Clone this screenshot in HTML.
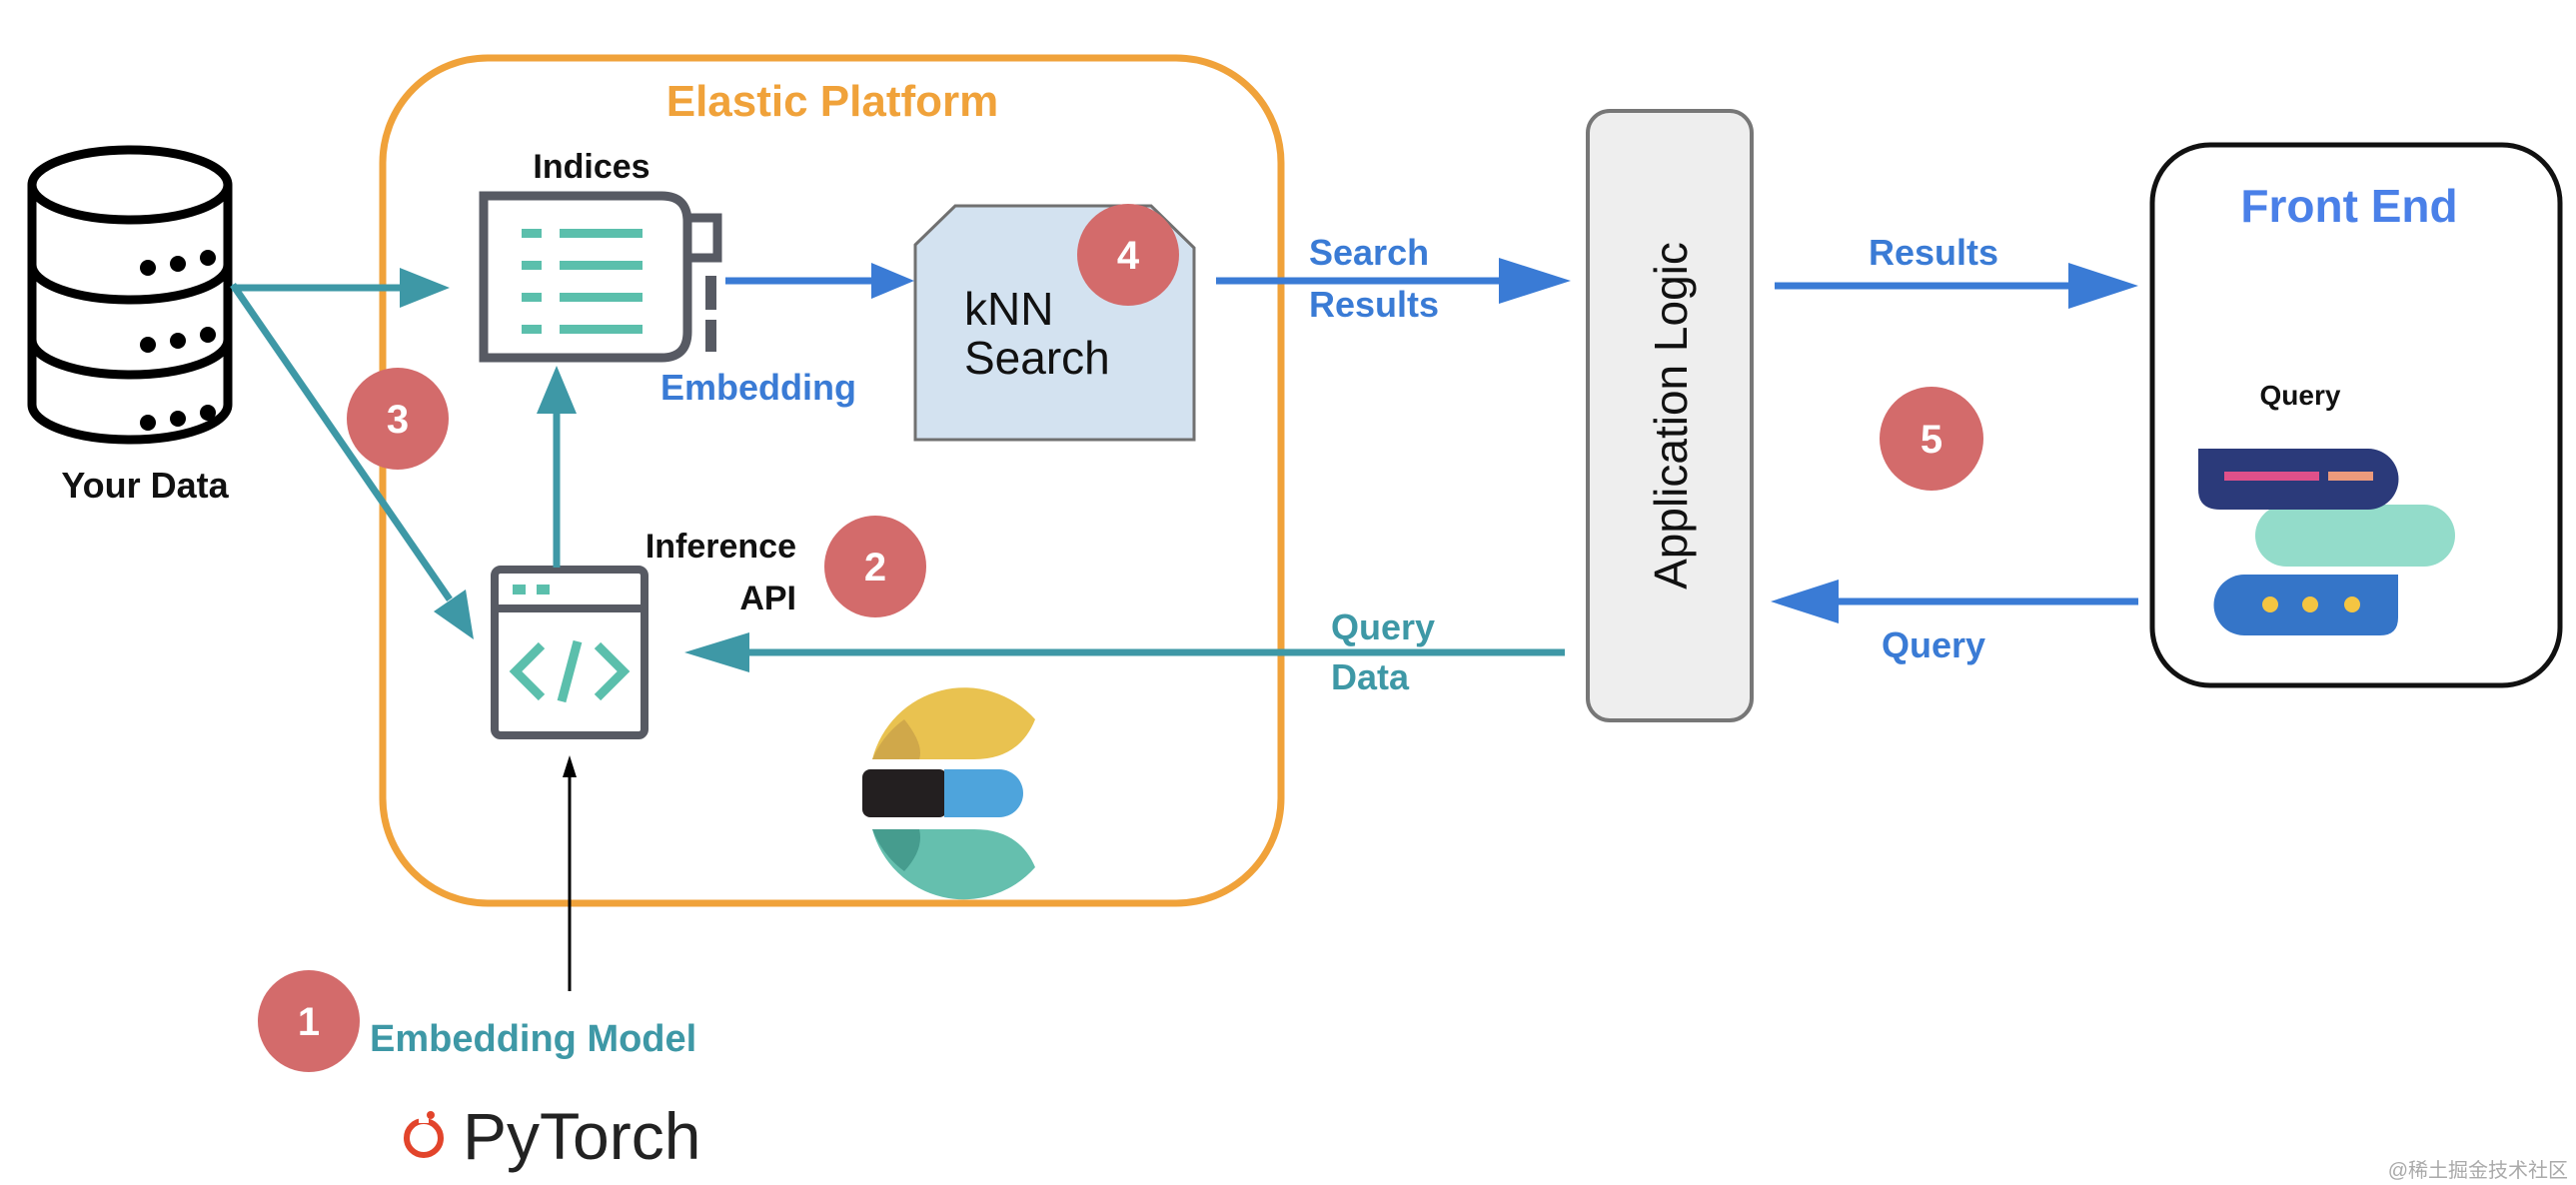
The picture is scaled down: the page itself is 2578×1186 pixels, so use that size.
<!DOCTYPE html>
<html><head><meta charset="utf-8"><style>
html,body{margin:0;padding:0;background:#fff;}
svg{display:block;}
text{font-family:"Liberation Sans",Arial,sans-serif;}
</style></head><body>
<svg width="2578" height="1186" viewBox="0 0 2578 1186" xmlns="http://www.w3.org/2000/svg">
<rect width="2578" height="1186" fill="#fff"/>
<!-- Elastic platform box -->
<rect x="383" y="58" width="899" height="846" rx="105" fill="none" stroke="#f0a23a" stroke-width="7"/>
<text x="833" y="116" text-anchor="middle" font-size="44" font-weight="bold" fill="#f0a23a">Elastic Platform</text>

<!-- database -->
<g fill="#fff" stroke="#000" stroke-width="9">
<path d="M32,185 V405 A98,35 0 0 0 228,405 V185"/>
<ellipse cx="130" cy="185" rx="98" ry="35"/>
<path d="M32,265 A98,35 0 0 0 228,265"/>
<path d="M32,340 A98,35 0 0 0 228,340"/>
</g>
<g fill="#000">
<circle cx="148" cy="268" r="8"/><circle cx="178" cy="264" r="8"/><circle cx="208" cy="258" r="8"/>
<circle cx="148" cy="345" r="8"/><circle cx="178" cy="341" r="8"/><circle cx="208" cy="335" r="8"/>
<circle cx="148" cy="423" r="8"/><circle cx="178" cy="419" r="8"/><circle cx="208" cy="413" r="8"/>
</g>
<text x="145" y="498" text-anchor="middle" font-size="36" font-weight="bold" fill="#111">Your Data</text>

<!-- teal arrows from db -->
<line x1="232" y1="288" x2="410" y2="288" stroke="#3e98a6" stroke-width="7"/>
<path d="M400,268 L450,288 L400,308 z" fill="#3e98a6"/>
<line x1="233" y1="285" x2="450" y2="600" stroke="#3e98a6" stroke-width="7"/>
<path d="M474,640 L434,612 L466,590 z" fill="#3e98a6"/>

<!-- indices icon -->
<text x="592" y="178" text-anchor="middle" font-size="34" font-weight="bold" fill="#111">Indices</text>
<path d="M484,196 H662 Q688,196 688,222 V332 Q688,358 662,358 H484 z" fill="#fff" stroke="#575a63" stroke-width="9"/>
<path d="M688,218 H718 V258 H688" fill="none" stroke="#575a63" stroke-width="9"/>
<rect x="706" y="276" width="11" height="34" fill="#575a63"/>
<rect x="706" y="320" width="11" height="32" fill="#575a63"/>
<g fill="#5bbfac">
<rect x="522" y="229" width="20" height="9"/><rect x="560" y="229" width="83" height="9"/>
<rect x="522" y="261" width="20" height="9"/><rect x="560" y="261" width="83" height="9"/>
<rect x="522" y="293" width="20" height="9"/><rect x="560" y="293" width="83" height="9"/>
<rect x="522" y="325" width="20" height="9"/><rect x="560" y="325" width="83" height="9"/>
</g>

<!-- blue arrow to kNN -->
<line x1="726" y1="281" x2="880" y2="281" stroke="#3a7bd5" stroke-width="7"/>
<path d="M872,263 L915,281 L872,299 z" fill="#3a7bd5"/>
<text x="661" y="400" font-size="36" font-weight="bold" fill="#3a7bd5">Embedding</text>

<!-- kNN box -->
<path d="M916,245 L956,206 H1152 L1195,248 V440 H916 z" fill="#d3e2f0" stroke="#707070" stroke-width="3"/>
<text x="965" y="325" font-size="46" fill="#111">kNN</text>
<text x="965" y="374" font-size="46" fill="#111">Search</text>

<!-- inference icon -->
<rect x="495" y="570" width="150" height="166" rx="6" fill="#fff" stroke="#575a63" stroke-width="8"/>
<line x1="495" y1="609" x2="645" y2="609" stroke="#575a63" stroke-width="8"/>
<rect x="513" y="585" width="13" height="10" fill="#5bbfac"/><rect x="537" y="585" width="13" height="10" fill="#5bbfac"/>
<g fill="none" stroke="#5bbfac" stroke-width="9">
<path d="M542,646 L516,672 L542,698"/><path d="M598,646 L624,672 L598,698"/><path d="M578,642 L562,702"/>
</g>
<line x1="557" y1="568" x2="557" y2="410" stroke="#3e98a6" stroke-width="7"/>
<path d="M537,414 L557,366 L577,414 z" fill="#3e98a6"/>
<text x="797" y="558" text-anchor="end" font-size="34" font-weight="bold" fill="#111">Inference</text>
<text x="797" y="610" text-anchor="end" font-size="34" font-weight="bold" fill="#111">API</text>

<!-- query data arrow -->
<line x1="1566" y1="653" x2="740" y2="653" stroke="#3e98a6" stroke-width="7"/>
<path d="M750,633 L685,653 L750,673 z" fill="#3e98a6"/>
<text x="1332" y="640" font-size="36" font-weight="bold" fill="#3e98a6">Query</text>
<text x="1332" y="690" font-size="36" font-weight="bold" fill="#3e98a6">Data</text>

<!-- black arrow -->
<line x1="570" y1="992" x2="570" y2="775" stroke="#000" stroke-width="3"/>
<path d="M563,778 L570,756 L577,778 z" fill="#000"/>

<!-- elastic logo -->
<path d="M873,760 A95,95 0 0 1 1036,720 Q1020,760 975,760 z" fill="#e9c250"/>
<path d="M873,760 A95,95 0 0 1 905,720 Q925,745 920,760 z" fill="#d0a84a"/>
<rect x="863" y="770" width="85" height="48" rx="8" fill="#231f20"/>
<path d="M945,770 H1000 A24,24 0 0 1 1000,818 H945 z" fill="#4ea4dc"/>
<path d="M873,830 H975 Q1020,830 1036,868 A95,95 0 0 1 873,830 z" fill="#65bfae"/>
<path d="M873,830 H920 Q925,850 905,872 A95,95 0 0 1 873,830 z" fill="#469c8e"/>

<!-- circles -->
<g fill="#d36b6b">
<circle cx="398" cy="419" r="51"/><circle cx="1129" cy="255" r="51"/><circle cx="876" cy="567" r="51"/>
<circle cx="309" cy="1022" r="51"/><circle cx="1933" cy="439" r="52"/>
</g>
<g fill="#fff" font-size="40" font-weight="bold" text-anchor="middle">
<text x="398" y="433">3</text><text x="1129" y="269">4</text><text x="876" y="581">2</text>
<text x="309" y="1036">1</text><text x="1933" y="453">5</text>
</g>
<text x="370" y="1052" font-size="38" font-weight="bold" fill="#3e98a6">Embedding Model</text>

<!-- PyTorch -->
<circle cx="424" cy="1139" r="17" fill="none" stroke="#e2442b" stroke-width="6"/>
<rect x="419" y="1110" width="10" height="14" fill="#fff"/>
<circle cx="431" cy="1116" r="4" fill="#e2442b"/>
<text x="463" y="1160" font-size="66" fill="#222">PyTorch</text>

<!-- search results arrow -->
<line x1="1217" y1="281" x2="1510" y2="281" stroke="#3a7bd5" stroke-width="7"/>
<path d="M1500,258 L1572,281 L1500,304 z" fill="#3a7bd5"/>
<text x="1310" y="265" font-size="36" font-weight="bold" fill="#3a7bd5">Search</text>
<text x="1310" y="317" font-size="36" font-weight="bold" fill="#3a7bd5">Results</text>

<!-- application logic -->
<rect x="1589" y="111" width="164" height="610" rx="22" fill="#eeeeee" stroke="#777" stroke-width="4"/>
<text transform="translate(1688,416) rotate(-90)" text-anchor="middle" font-size="46" fill="#111">Application Logic</text>

<!-- results arrow -->
<line x1="1776" y1="286" x2="2080" y2="286" stroke="#3a7bd5" stroke-width="7"/>
<path d="M2070,263 L2140,286 L2070,309 z" fill="#3a7bd5"/>
<text x="1935" y="265" text-anchor="middle" font-size="36" font-weight="bold" fill="#3a7bd5">Results</text>

<!-- query arrow -->
<line x1="2140" y1="602" x2="1830" y2="602" stroke="#3a7bd5" stroke-width="7"/>
<path d="M1840,580 L1772,602 L1840,624 z" fill="#3a7bd5"/>
<text x="1935" y="658" text-anchor="middle" font-size="36" font-weight="bold" fill="#3a7bd5">Query</text>

<!-- front end -->
<rect x="2154" y="145" width="408" height="541" rx="58" fill="#fff" stroke="#111" stroke-width="5"/>
<text x="2351" y="222" text-anchor="middle" font-size="46" font-weight="bold" fill="#4a80e8">Front End</text>
<text x="2302" y="405" text-anchor="middle" font-size="28" font-weight="bold" fill="#111">Query</text>
<rect x="2257" y="505" width="200" height="62" rx="31" fill="#93dcca"/>
<path d="M2200,449 H2370 A30,30 0 0 1 2370,510 H2222 Q2200,510 2200,490 z" fill="#2b3a7a"/>
<rect x="2226" y="472" width="95" height="9" fill="#e0508a"/>
<rect x="2330" y="472" width="45" height="9" fill="#ec9a7c"/>
<path d="M2246,575 H2400 V618 Q2400,636 2382,636 H2246 A30,30 0 0 1 2246,575 z" fill="#3575c8"/>
<circle cx="2272" cy="605" r="8" fill="#f4c542"/><circle cx="2312" cy="605" r="8" fill="#f4c542"/><circle cx="2354" cy="605" r="8" fill="#f4c542"/>

<text x="2570" y="1178" text-anchor="end" font-size="20" fill="#aaa" style="font-family:'Liberation Sans','Noto Sans CJK SC',sans-serif">@稀土掘金技术社区</text>
</svg>
</body></html>
